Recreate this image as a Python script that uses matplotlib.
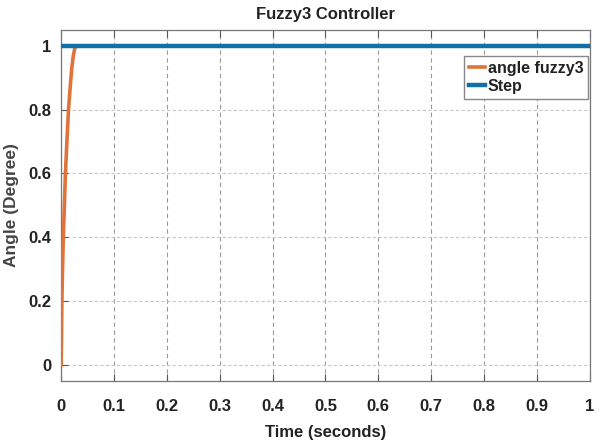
import numpy as np
import matplotlib
matplotlib.use("Agg")
import matplotlib.pyplot as plt

# response
t_fuzzy = [0, 0.0005, 0.0013, 0.0025, 0.004, 0.006, 0.008, 0.0108, 0.0138, 0.017, 0.02, 0.023, 0.026, 0.03, 1.0]
y_fuzzy = [0, 0.08, 0.2, 0.3, 0.4, 0.5, 0.6, 0.7, 0.8, 0.87, 0.93, 0.97, 0.995, 1.0, 1.0]
t_step = [0, 1.0]
y_step = [1, 1]

xticks = [0, 0.1, 0.2, 0.3, 0.4, 0.5, 0.6, 0.7, 0.8, 0.9, 1]
yticks = [0, 0.2, 0.4, 0.6, 0.8, 1]

plt.rcParams['font.family'] = ['Liberation Sans', 'DejaVu Sans']

fig = plt.figure(figsize=(6, 4.46), dpi=100)
ax = fig.add_axes([0.102, 0.146, 0.881, 0.787])

ax.plot(t_fuzzy, y_fuzzy, color='#E0733A', lw=2.6, label='angle fuzzy3', zorder=3)
ax.plot(t_step, y_step, color='#1170AA', lw=3.2, label='Step', zorder=4)

ax.set_xlim(0, 1)
ax.set_ylim(-0.05, 1.05)
ax.set_xticks(xticks)
ax.set_xticklabels([f"{v:g}" for v in xticks])
ax.set_yticks(yticks)
ax.set_yticklabels([f"{v:g}" for v in yticks])

ax.grid(axis='x', color='#999999', ls=(0, (4, 3)), lw=0.8)
ax.grid(axis='y', color='#c8c8c8', ls=(0, (3, 2)), lw=0.8)
ax.tick_params(direction='in', top=True, right=False, length=5, color='#555555',
               labelsize=12, labelcolor='#222222')
ax.tick_params(axis='y', pad=7)
ax.tick_params(axis='x', pad=13)
for lab in ax.get_xticklabels() + ax.get_yticklabels():
    lab.set_fontweight('bold')
for s in ax.spines.values():
    s.set_color('#777777')
    s.set_linewidth(0.9)

ax.set_title('Fuzzy3 Controller', fontsize=12, fontweight='bold', color='#222222', pad=8)
ax.set_xlabel('Time (seconds)', fontsize=12, fontweight='bold', color='#222222', labelpad=8)
ax.set_ylabel('Angle (Degree)', fontsize=12.5, fontweight='bold', color='#444444', labelpad=7)

leg = ax.legend(loc='upper right', bbox_to_anchor=(1.0, 0.93), fontsize=11.5, handlelength=1.0,
                handletextpad=0.2, borderpad=0.3, labelspacing=0.2, fancybox=False,
                framealpha=1, edgecolor='#888888', borderaxespad=0.1)
for txt in leg.get_texts():
    txt.set_fontweight('bold')
    txt.set_color('#222222')

fig.savefig('out.png', dpi=100)
